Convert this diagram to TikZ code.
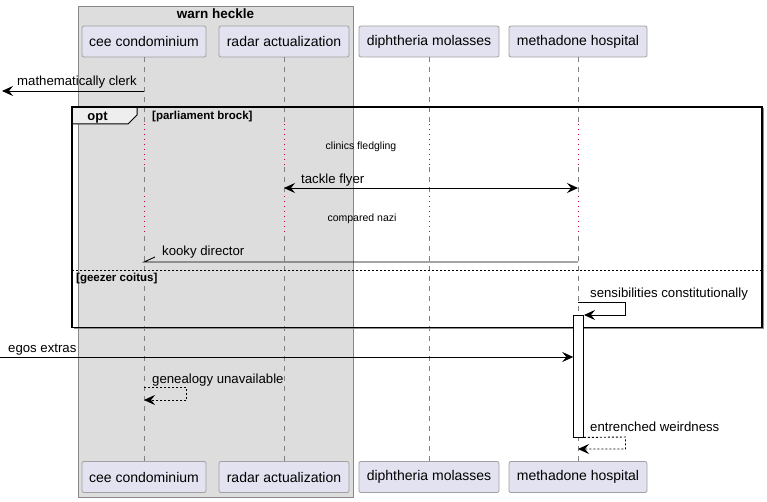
\documentclass[tikz,border=0pt]{standalone}
\usepackage{fontspec}
\setmainfont{Liberation Sans}
\usetikzlibrary{arrows.meta}
\definecolor{partfill}{HTML}{E2E2F0}
\definecolor{partdraw}{HTML}{A0A0A0}
\definecolor{boxfill}{HTML}{DDDDDD}
\definecolor{boxdraw}{HTML}{888888}
\definecolor{lifecol}{HTML}{808080}
\definecolor{delaycol}{HTML}{C8003C}
\definecolor{tabfill}{HTML}{EEEEEE}
\tikzset{
  part/.style={draw=partdraw, fill=partfill, rounded corners=2pt, minimum height=31pt, inner sep=0pt, font=\fontsize{14}{16}\selectfont, line width=0.8pt},
  lifeline/.style={draw=lifecol, dash pattern=on 5pt off 5pt, line width=0.7pt},
  delayline/.style={draw=delaycol, dash pattern=on 1.2pt off 3.8pt, line width=1pt},
  msg/.style={draw=black, line width=0.9pt, -{Stealth[length=11pt,width=10pt,inset=4pt]}},
  dmsg/.style={msg, dash pattern=on 2pt off 2pt},
  lbl/.style={font=\fontsize{13.2}{15}\selectfont, inner sep=0pt, anchor=base west},
  slbl/.style={font=\fontsize{10.5}{12}\selectfont, inner sep=0pt, anchor=base},
  blbl/.style={font=\fontsize{11.5}{13}\selectfont\bfseries, inner sep=0pt, anchor=base west},
}
\begin{document}
\begin{tikzpicture}[x=1pt,y=-1pt]
\useasboundingbox (0,0) rectangle (767,502);
% group box
\draw[fill=boxfill, draw=boxdraw, line width=0.8pt] (78,6) rectangle (353,497);
\node[font=\fontsize{13.5}{15}\selectfont\bfseries, inner sep=0pt, anchor=base] (boxtitle) at (215.5,18.5) {warn heckle};
% participants
\node[part, minimum width=124pt] (cee) at (144,41.5) {cee condominium};
\node[part, minimum width=130pt] (rad) at (284,41.5) {radar actualization};
\node[part, minimum width=140pt] (dip) at (429,41.5) {diphtheria molasses};
\node[part, minimum width=138pt] (met) at (578,41.5) {methadone hospital};
\node[part, minimum width=124pt] (ceeB) at (144,477) {cee condominium};
\node[part, minimum width=130pt] (radB) at (284,477) {radar actualization};
\node[part, minimum width=140pt] (dipB) at (429,477) {diphtheria molasses};
\node[part, minimum width=138pt] (metB) at (578,477) {methadone hospital};
% lifeline breakpoints
\coordinate (ya) at (0,124);
\coordinate (yb) at (0,167);
\coordinate (yc) at (0,196);
\coordinate (yd) at (0,236);
\foreach \p in {cee,rad,dip,met}{
  \draw[lifeline] (\p.south) -- (\p.south |- ya);
  \draw[delayline] (\p.south |- ya) -- (\p.south |- yb);
  \draw[lifeline] (\p.south |- yb) -- (\p.south |- yc);
  \draw[delayline] (\p.south |- yc) -- (\p.south |- yd);
  \draw[lifeline] (\p.south |- yd) -- (\p B.north);
}
% mathematically clerk
\coordinate (mcS) at (144,91);
\coordinate (mcE) at (2,91);
\draw[msg] (mcS) -- (mcE);
\node[lbl] (mcL) at (17,86) {mathematically clerk};
% opt frame
\draw[draw=black!45, line width=1.2pt] (73.5,328.8) -- (763.3,328.8) -- (763.3,108.5);
\draw[line width=1.6pt] (72,107) rectangle (762,327.5);
\draw[fill=tabfill, line width=1pt] (72,107) -- (137,107) -- (137,115) -- (128,124) -- (72,124) -- cycle;
\draw[line width=1.6pt] (72,107) -- (762,107) (72,107) -- (72,124);
\node[font=\fontsize{13}{15}\selectfont\bfseries, inner sep=0pt, anchor=base] (optL) at (97.5,121) {opt};
\node[blbl] (g1) at (152,119.5) {[parliament brock]};
% delay 1
\node[slbl] (d1) at (361,149.5) {clinics fledgling};
% tackle flyer
\coordinate (tfA) at (284,188);
\coordinate (tfB) at (578,188);
\draw[msg, {Stealth[length=11pt,width=10pt,inset=4pt]}-{Stealth[length=11pt,width=10pt,inset=4pt]}] (tfA) -- (tfB);
\node[lbl] (tfL) at (301,184) {tackle flyer};
% delay 2
\node[slbl] (d2) at (362,221.5) {compared nazi};
% kooky director
\coordinate (kdS) at (578,262);
\coordinate (kdE) at (144,262);
\draw[line width=0.9pt] (kdS) -- (kdE) -- ++(11,-5);
\node[lbl] (kdL) at (162,255.5) {kooky director};
% separator
\draw[line width=0.8pt, dash pattern=on 2pt off 2pt] (72,270) -- (762,270);
\node[blbl] (g2) at (76,281) {[geezer coitus]};
% sensibilities constitutionally
\coordinate (scS) at (578,302);
\coordinate (scE) at (584,315);
\draw[msg] (scS) -- (625.5,302) -- (625.5,315) -- (scE);
\node[lbl] (scL) at (590,297.5) {sensibilities constitutionally};
% activation
\node[draw, fill=white, line width=0.9pt, minimum width=9.6pt, minimum height=122pt, inner sep=0pt] (act) at (578.5,376) {};
% egos extras
\coordinate (eeS) at (0,357);
\draw[msg] (eeS) -- (act.west |- eeS);
\node[lbl] (eeL) at (8,352) {egos extras};
% genealogy unavailable
\coordinate (guS) at (144,387);
\coordinate (guE) at (144,400);
\draw[dmsg] (guS) -- (186.5,387) -- (186.5,400) -- (guE);
\node[lbl] (guL) at (152,383) {genealogy unavailable};
% entrenched weirdness
\coordinate (ewE) at (578,449);
\draw[dmsg] (act.south east) -- (625.5,437) -- (625.5,449) -- (ewE);
\node[lbl] (ewL) at (590,431) {entrenched weirdness};
\end{tikzpicture}
\end{document}
